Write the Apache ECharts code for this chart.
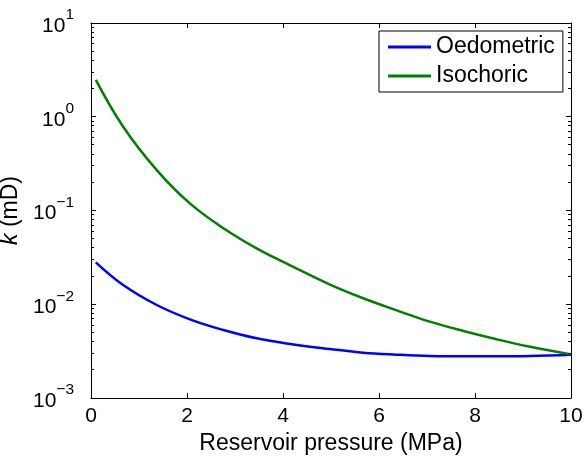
<!DOCTYPE html>
<html>
<head>
<meta charset="utf-8">
<script src="https://cdn.jsdelivr.net/npm/echarts@6/dist/echarts.min.js"></script>
<style>html,body{margin:0;padding:0;background:#fff;}#c{width:584px;height:456px;}</style>
</head>
<body>
<div id="c"></div>
<script>
const pressure   = [0.1, 0.67, 1.37, 2.06, 2.76, 3.45, 4.15, 4.98, 5.67, 6.37, 7.06, 7.76, 8.45, 9.15, 10];
const oedometric = [0.0280, 0.01604, 0.00982, 0.00691, 0.00531, 0.00433, 0.00377, 0.00333, 0.00304, 0.00290, 0.00281, 0.00279, 0.00279, 0.00281, 0.00290];
const isochoric  = [2.47, 0.783, 0.270, 0.119, 0.0646, 0.0394, 0.0260, 0.0162, 0.01158, 0.00861, 0.00652, 0.00518, 0.00423, 0.00352, 0.00292];
const xTicks = [0, 2, 4, 6, 8, 10];
const yMajorTicks = [0.001, 0.01, 0.1, 1, 10];
const yMinorTicks = [];
for (let e = -3; e <= 0; e++) for (let m = 2; m <= 9; m++) yMinorTicks.push(m * Math.pow(10, e));

const FONT = 'Liberation Sans, Arial, sans-serif';
const X_MIN = 0, X_MAX = 10, Y_MIN = 0.001, Y_MAX = 10;
const chart = echarts.init(document.getElementById('c'));
const line = {show: true, onZero: false, lineStyle: {color: '#000', width: 1}};
const yBase = {type: 'log', logBase: 10, min: Y_MIN, max: Y_MAX, splitLine: {show: false}, axisTick: {show: false}, axisLabel: {show: false}, axisLine: line};
const xBase = {type: 'value', min: X_MIN, max: X_MAX, interval: 2, splitLine: {show: false}, axisTick: {show: false}, axisLabel: {show: false}, axisLine: line};
const yLabel = {
  show: true, customValues: yMajorTicks, margin: 17,
  formatter: v => '{b|10}{s|' + String(Math.round(Math.log10(v))).replace('-', '\u2212') + '}',
  rich: {
    b: {fontSize: 21, fontFamily: FONT, color: '#000', verticalAlign: 'middle', padding: [6, 0, 0, 0]},
    s: {fontSize: 15.5, fontFamily: FONT, color: '#000', verticalAlign: 'middle', padding: [0, 0, 16, 0]}
  }
};
chart.setOption({
  animation: false,
  tooltip: {show: false},
  grid: {left: 91, right: 13, top: 23, bottom: 58, containLabel: false, outerBoundsMode: 'none'},
  legend: {
    orient: 'vertical', left: 379, top: 31,
    padding: [4, 8, 4, 9], itemGap: 5, itemWidth: 43, itemHeight: 3,
    borderColor: '#000', borderWidth: 1, backgroundColor: '#fff', borderRadius: 0,
    icon: 'rect',
    textStyle: {fontSize: 23, fontFamily: FONT, color: '#000', lineHeight: 24},
    data: ['Oedometric', 'Isochoric']
  },
  xAxis: [
    Object.assign({}, xBase, {position: 'bottom',
      name: 'Reservoir pressure (MPa)', nameLocation: 'middle', nameGap: 30,
      nameTextStyle: {fontSize: 23, fontFamily: FONT, color: '#000'},
      axisLabel: {show: true, fontSize: 21, fontFamily: FONT, color: '#000', margin: 8}}),
    Object.assign({}, xBase, {position: 'top'})
  ],
  yAxis: [
    Object.assign({}, yBase, {position: 'left',
      name: '{i|k} (mD)', nameLocation: 'middle', nameGap: 57,
      nameTextStyle: {fontSize: 23, fontFamily: FONT, color: '#000',
        rich: {i: {fontSize: 23, fontFamily: FONT, fontStyle: 'italic', color: '#000'}}},
      axisLabel: yLabel}),
    Object.assign({}, yBase, {position: 'right'})
  ],
  series: [
    {name: 'Oedometric', type: 'line', smooth: 0.4, showSymbol: false, symbol: 'none',
     color: '#0000ff', lineStyle: {width: 2.5, color: '#0000ff'},
     data: pressure.map((p, i) => [p, oedometric[i]])},
    {name: 'Isochoric', type: 'line', smooth: 0.4, showSymbol: false, symbol: 'none',
     color: '#008000', lineStyle: {width: 2.5, color: '#008000'},
     data: pressure.map((p, i) => [p, isochoric[i]])}
  ]
});

// Inward tick marks (MATLAB style), positioned through the chart's own scales.
const toPx = (x, y) => chart.convertToPixel({xAxisIndex: 0, yAxisIndex: 0}, [x, y]);
const crisp = v => Math.round(v - 0.5) + 0.5;
const ticks = [];
const seg = (x1, y1, x2, y2) => ticks.push({
  type: 'line', silent: true, z: 100,
  shape: {x1: x1, y1: y1, x2: x2, y2: y2},
  style: {stroke: '#000', lineWidth: 1}
});
const xl = toPx(X_MIN, Y_MIN)[0], xr = toPx(X_MAX, Y_MIN)[0];
const yb = toPx(X_MIN, Y_MIN)[1], yt = toPx(X_MIN, Y_MAX)[1];
yMajorTicks.forEach(v => { const y = crisp(toPx(X_MIN, v)[1]); seg(xl, y, xl + 5, y); seg(xr, y, xr - 5, y); });
yMinorTicks.forEach(v => { const y = crisp(toPx(X_MIN, v)[1]); seg(xl, y, xl + 3, y); seg(xr, y, xr - 3, y); });
xTicks.forEach(v => { const x = crisp(toPx(v, Y_MIN)[0]); seg(x, yb, x, yb - 5); seg(x, yt, x, yt + 5); });
chart.setOption({graphic: {elements: ticks}});
</script>
</body>
</html>
